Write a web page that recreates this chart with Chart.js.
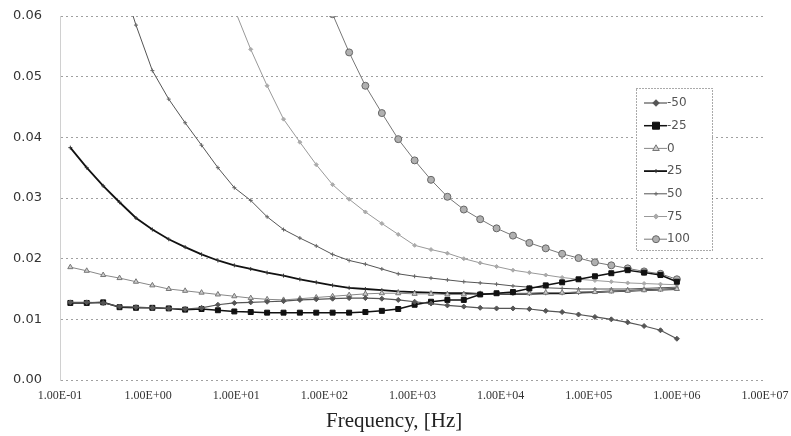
<!DOCTYPE html>
<html>
<head>
<meta charset="utf-8">
<script src="https://cdn.jsdelivr.net/npm/chart.js"></script>
<style>
  html, body { margin: 0; padding: 0; background: #fff; }
  #wrap { width: 791px; height: 436px; position: relative; }
</style>
</head>
<body>
<div id="wrap"><canvas id="chart"></canvas></div>
<script>
// Sweep frequencies (Hz)
const freqs = [0.131, 0.201, 0.309, 0.474, 0.728, 1.117, 1.714, 2.63, 4.04, 6.19,
  9.51, 14.6, 22.4, 34.4, 52.7, 80.9, 124, 191, 292, 449,
  689, 1057, 1622, 2489, 3819, 5861, 8995, 13804, 21184, 32509,
  49888, 76560, 117490, 180302, 276694, 424620, 651628, 1000000];

const xTickValues = [0.1, 1, 10, 100, 1e3, 1e4, 1e5, 1e6, 1e7];
const xTickLabels = ['1.00E-01', '1.00E+00', '1.00E+01', '1.00E+02', '1.00E+03',
  '1.00E+04', '1.00E+05', '1.00E+06', '1.00E+07'];

const seriesNames = ['-50', '-25', '0', '25', '50', '75', '100'];

const tM50 = [0.0128, 0.0128, 0.0127, 0.0121, 0.0120, 0.0119, 0.0118, 0.0117, 0.0119, 0.0124,
  0.0127, 0.0128, 0.0129, 0.0130, 0.0132, 0.0133, 0.0134, 0.0135, 0.0135, 0.0134,
  0.0132, 0.0129, 0.0126, 0.0123, 0.0121, 0.0119, 0.0118, 0.0118, 0.0117, 0.0114,
  0.0112, 0.0108, 0.0104, 0.0100, 0.0095, 0.0089, 0.0082, 0.0068];
const tM25 = [0.0127, 0.0127, 0.0128, 0.0120, 0.0119, 0.0119, 0.0118, 0.0116, 0.0117, 0.0115,
  0.0113, 0.0112, 0.0111, 0.0111, 0.0111, 0.0111, 0.0111, 0.0111, 0.0112, 0.0114,
  0.0117, 0.0124, 0.0129, 0.0132, 0.0132, 0.0141, 0.0143, 0.0145, 0.0151, 0.0156,
  0.0161, 0.0166, 0.0171, 0.0176, 0.0181, 0.0177, 0.0173, 0.0162];
const t0 = [0.0186, 0.0180, 0.0173, 0.0168, 0.0162, 0.0156, 0.0150, 0.0147, 0.0144, 0.0141,
  0.0138, 0.0135, 0.0133, 0.0132, 0.0134, 0.0136, 0.0138, 0.0140, 0.0142, 0.0143,
  0.0143, 0.0142, 0.0142, 0.0141, 0.0141, 0.0142, 0.0142, 0.0143, 0.0143, 0.0144,
  0.0144, 0.0145, 0.0145, 0.0146, 0.0147, 0.0148, 0.0149, 0.0150];
const t25 = [0.0383, 0.0350, 0.0320, 0.0293, 0.0267, 0.0248, 0.0232, 0.0219, 0.0207, 0.0197,
  0.0189, 0.0183, 0.0177, 0.0172, 0.0166, 0.0161, 0.0156, 0.0152, 0.0150, 0.0148,
  0.0146, 0.0145, 0.0144, 0.0143, 0.0143, 0.0142, 0.0142, 0.0142, 0.0142, 0.0143,
  0.0143, 0.0144, 0.0145, 0.0146, 0.0147, 0.0148, 0.0149, 0.0150];
const t50 = [null, null, null, 0.0670, 0.0585, 0.0510, 0.0463, 0.0424, 0.0387, 0.0350,
  0.0317, 0.0296, 0.0269, 0.0248, 0.0234, 0.0221, 0.0207, 0.0197, 0.0191, 0.0183,
  0.0175, 0.0171, 0.0168, 0.0165, 0.0162, 0.0160, 0.0158, 0.0155, 0.0153, 0.0152,
  0.0151, 0.0150, 0.0150, 0.0150, 0.0150, 0.0151, 0.0152, 0.0153];
const t75 = [null, null, null, null, null, null, null, null, null, null,
  0.0612, 0.0545, 0.0485, 0.0430, 0.0392, 0.0355, 0.0322, 0.0298, 0.0277, 0.0258,
  0.0240, 0.0222, 0.0215, 0.0209, 0.0200, 0.0193, 0.0187, 0.0181, 0.0177, 0.0173,
  0.0169, 0.0166, 0.0164, 0.0162, 0.0160, 0.0159, 0.0158, 0.0157];
const t100 = [null, null, null, null, null, null, null, null, null, null,
  null, null, null, null, null, null, 0.0603, 0.0540, 0.0485, 0.0440,
  0.0397, 0.0362, 0.0330, 0.0302, 0.0281, 0.0265, 0.0250, 0.0238, 0.0226, 0.0217,
  0.0208, 0.0201, 0.0194, 0.0189, 0.0184, 0.0179, 0.0175, 0.0166];

const seriesValues = [tM50, tM25, t0, t25, t50, t75, t100];

// grayscale look of the scanned original
const styles = [
  { line: '#555', width: 1.2, point: 'rectRot', r: 2.5, fill: '#555', edge: '#555' },
  { line: '#111', width: 1.5, point: 'rect', r: 3.5, fill: '#111', edge: '#111' },
  { line: '#888', width: 1, point: 'triangle', r: 3, fill: '#ccc', edge: '#777' },
  { line: '#111', width: 1.8, point: 'cross', r: 2, fill: '#333', edge: '#333' },
  { line: '#555', width: 1, point: 'cross', r: 2, fill: '#666', edge: '#666' },
  { line: '#999', width: 1, point: 'rectRot', r: 2, fill: '#aaa', edge: '#aaa' },
  { line: '#777', width: 1, point: 'circle', r: 3.5, fill: '#b0b0b0', edge: '#666' },
];

const datasets = seriesNames.map((name, k) => ({
  label: name,
  data: freqs.map((f, i) => ({ x: f, y: seriesValues[k][i] })),
  borderColor: styles[k].line,
  borderWidth: styles[k].width,
  pointStyle: styles[k].point,
  pointRadius: styles[k].r,
  pointBackgroundColor: styles[k].fill,
  pointBorderColor: styles[k].edge,
  pointBorderWidth: 1,
  tension: 0,
}));

function drawMarker(ctx, ds, x, y) {
  const r = ds.pointRadius;
  ctx.save();
  ctx.fillStyle = ds.pointBackgroundColor;
  ctx.strokeStyle = ds.pointBorderColor;
  ctx.lineWidth = 1;
  ctx.beginPath();
  switch (ds.pointStyle) {
    case 'circle':
      ctx.arc(x, y, r, 0, Math.PI * 2);
      break;
    case 'rect':
      ctx.rect(x - r, y - r, 2 * r, 2 * r);
      break;
    case 'rectRot':
      ctx.moveTo(x, y - r * 1.3); ctx.lineTo(x + r * 1.3, y);
      ctx.lineTo(x, y + r * 1.3); ctx.lineTo(x - r * 1.3, y);
      ctx.closePath();
      break;
    case 'triangle':
      ctx.moveTo(x, y - r * 1.2); ctx.lineTo(x + r * 1.1, y + r * 0.7);
      ctx.lineTo(x - r * 1.1, y + r * 0.7); ctx.closePath();
      break;
    case 'cross':
      ctx.moveTo(x - r, y); ctx.lineTo(x + r, y);
      ctx.moveTo(x, y - r); ctx.lineTo(x, y + r);
      ctx.stroke(); ctx.restore();
      return;
  }
  ctx.fill();
  ctx.stroke();
  ctx.restore();
}

// legend sits inside the plot, on the right
const insideLegend = {
  id: 'insideLegend',
  afterDraw(chart) {
    const ctx = chart.ctx;
    const bx = 636, by = 88, bw = 76, bh = 162;
    ctx.save();
    ctx.fillStyle = '#fff';
    ctx.fillRect(bx, by, bw, bh);
    ctx.setLineDash([1, 2]);
    ctx.strokeStyle = '#555';
    ctx.lineWidth = 1;
    ctx.strokeRect(bx + 0.5, by + 0.5, bw, bh);
    ctx.setLineDash([]);
    chart.data.datasets.forEach((ds, i) => {
      const y = by + 15 + i * 22.7;
      ctx.strokeStyle = ds.borderColor;
      ctx.lineWidth = ds.borderWidth;
      ctx.beginPath();
      ctx.moveTo(bx + 8, y);
      ctx.lineTo(bx + 31, y);
      ctx.stroke();
      drawMarker(ctx, ds, bx + 20, y);
      ctx.fillStyle = '#555';
      ctx.font = '12px "DejaVu Sans"';
      ctx.textBaseline = 'middle';
      ctx.textAlign = 'left';
      ctx.fillText(ds.label, bx + 31, y);
    });
    ctx.restore();
  }
};

new Chart(document.getElementById('chart'), {
  type: 'line',
  data: { datasets },
  plugins: [insideLegend],
  options: {
    responsive: true,
    maintainAspectRatio: false,
    animation: false,
    layout: { padding: { top: 16, right: 26, left: 0, bottom: 0 } },
    plugins: { legend: { display: false }, tooltip: { enabled: false } },
    scales: {
      x: {
        type: 'logarithmic',
        min: 0.1,
        max: 1e7,
        afterBuildTicks(scale) { scale.ticks = xTickValues.map(v => ({ value: v })); },
        afterFit(scale) { scale.height = 56; },
        // invisible tick marks give the label gap without widening the layout padding
        grid: { display: true, drawOnChartArea: false, drawTicks: true, tickLength: 8, tickColor: 'rgba(0,0,0,0)', color: 'rgba(0,0,0,0)' },
        border: { display: false },
        ticks: {
          autoSkip: false,
          maxRotation: 0,
          padding: 1,
          color: '#333',
          font: { family: '"Liberation Serif"', size: 12 },
          callback(v) { return xTickLabels[xTickValues.indexOf(v)]; },
        },
        title: {
          display: true,
          text: 'Frequency, [Hz]' + '\u00a0'.repeat(7),
          color: '#222',
          font: { family: '"Liberation Serif"', size: 21 },
          padding: { top: 0, bottom: 2 },
        },
      },
      y: {
        min: 0,
        max: 0.06,
        afterFit(scale) { scale.width = 60; },
        grid: { color: '#a0a0a0', drawTicks: true, tickLength: 16, tickColor: 'rgba(0,0,0,0)' },
        border: { display: true, color: '#d0d0d0', dash: [2, 3] },
        ticks: {
          stepSize: 0.01,
          padding: 2,
          color: '#333',
          font: { family: '"DejaVu Sans"', size: 13 },
          callback(v) { return v.toFixed(2); },
        },
      },
    },
  },
});
</script>
</body>
</html>
